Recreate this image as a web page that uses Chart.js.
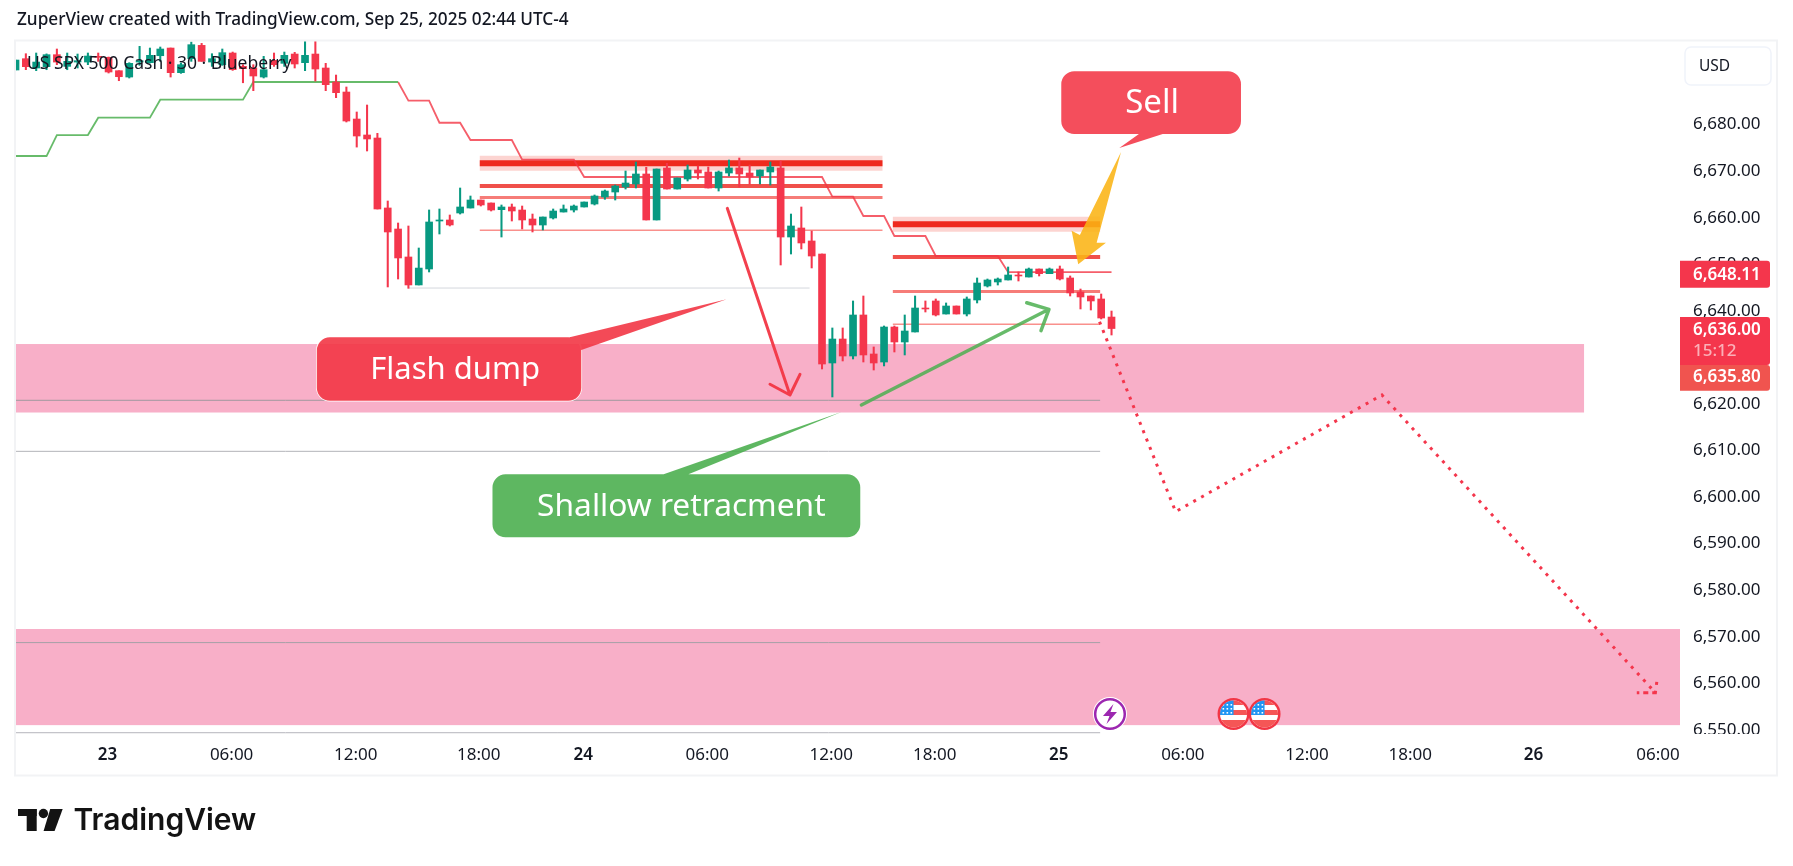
<!DOCTYPE html>
<html>
<head>
<meta charset="utf-8">
<title>US SPX 500 Cash</title>
<script src="https://cdn.jsdelivr.net/npm/chart.js@4/dist/chart.umd.min.js"></script>
<style>
  html, body { margin: 0; padding: 0; background: #fff; overflow: hidden; }
  canvas { display: block; }
</style>
</head>
<body>
<canvas id="grafico" width="1793" height="866"></canvas>
<script>
// velas de 30 minutos
var opens = [6691.54, 6693.97, 6691.97, 6692.25, 6694.83, 6692.32, 6693.25, 6693.25, 6694.47, 6694.26,
  6691.39, 6690.03, 6693.25, 6693.11, 6694.61, 6696.26, 6690.96, 6693.97, 6696.83, 6693.25,
  6692.68, 6695.19, 6692.32, 6691.97, 6690.03, 6693.61, 6692.97, 6694.97, 6693.11, 6694.97,
  6691.97, 6688.96, 6686.81, 6681.01, 6677.58, 6676.93, 6661.90, 6657.38, 6651.37, 6645.36,
  6648.79, 6659.10, 6659.32, 6660.82, 6661.89, 6663.61, 6662.97, 6661.54, 6662.11, 6661.46,
  6659.53, 6658.24, 6659.75, 6661.03, 6661.46, 6662.11, 6662.75, 6664.26, 6665.33, 6666.40,
  6667.05, 6669.20, 6659.32, 6670.49, 6665.97, 6668.12, 6670.06, 6669.63, 6666.19, 6669.41,
  6670.49, 6669.41, 6668.77, 6669.63, 6670.49, 6655.66, 6657.60, 6654.81, 6652.01, 6628.60,
  6633.75, 6630.10, 6638.91, 6630.53, 6628.81, 6636.33, 6633.11, 6635.26, 6640.41, 6641.92,
  6639.12, 6640.84, 6639.12, 6642.13, 6645.14, 6646.00, 6646.43, 6647.50, 6647.07, 6648.79,
  6647.79, 6648.79, 6646.86, 6643.85, 6642.99, 6642.35, 6638.47];
var highs = [6693.68, 6695.04, 6695.19, 6695.00, 6696.05, 6695.19, 6694.97, 6695.19, 6695.19, 6694.33,
  6691.39, 6693.11, 6696.62, 6696.26, 6696.48, 6696.26, 6693.04, 6697.55, 6697.26, 6695.04,
  6696.05, 6695.40, 6692.68, 6692.68, 6694.47, 6695.19, 6695.40, 6695.33, 6697.69, 6697.77,
  6692.97, 6690.46, 6687.89, 6682.52, 6684.02, 6677.93, 6663.40, 6658.67, 6658.03, 6653.30,
  6661.47, 6661.68, 6660.39, 6666.19, 6664.47, 6663.61, 6662.97, 6662.54, 6662.75, 6662.32,
  6660.60, 6659.96, 6661.68, 6662.54, 6662.54, 6663.18, 6664.69, 6665.76, 6666.83, 6669.84,
  6671.77, 6670.63, 6670.27, 6671.49, 6668.34, 6671.13, 6670.92, 6670.70, 6669.84, 6672.20,
  6672.63, 6671.13, 6670.06, 6671.77, 6671.99, 6660.60, 6662.11, 6656.95, 6652.01, 6636.12,
  6636.12, 6641.92, 6642.99, 6632.04, 6636.55, 6636.55, 6638.91, 6642.99, 6641.92, 6642.35,
  6641.49, 6640.84, 6642.78, 6646.86, 6646.64, 6646.86, 6649.22, 6648.15, 6649.00, 6648.79,
  6649.00, 6649.43, 6647.29, 6644.49, 6642.99, 6643.42, 6639.76];
var lows = [6691.54, 6691.61, 6691.39, 6691.60, 6692.68, 6691.60, 6691.97, 6692.68, 6693.40, 6690.89,
  6689.24, 6689.82, 6692.54, 6693.04, 6693.40, 6690.03, 6690.82, 6693.40, 6693.40, 6692.32,
  6692.54, 6691.46, 6688.80, 6687.10, 6689.82, 6692.32, 6692.32, 6691.97, 6691.39, 6689.17,
  6687.10, 6685.60, 6680.37, 6674.98, 6674.14, 6661.68, 6644.93, 6646.64, 6644.64, 6645.36,
  6648.15, 6656.31, 6658.03, 6660.60, 6661.89, 6662.32, 6661.25, 6655.66, 6659.10, 6657.38,
  6656.74, 6657.17, 6659.53, 6661.03, 6661.03, 6662.11, 6662.54, 6663.76, 6663.61, 6665.97,
  6666.19, 6659.32, 6659.32, 6665.97, 6665.97, 6667.69, 6668.12, 6666.19, 6665.54, 6668.77,
  6666.40, 6667.05, 6667.05, 6666.83, 6649.65, 6652.01, 6653.09, 6649.01, 6627.31, 6621.30,
  6629.03, 6629.46, 6628.81, 6627.09, 6627.96, 6630.96, 6630.32, 6635.26, 6639.55, 6638.70,
  6639.12, 6639.12, 6638.70, 6641.49, 6644.92, 6645.35, 6646.43, 6646.21, 6647.07, 6647.29,
  6647.79, 6646.43, 6642.99, 6640.20, 6639.98, 6638.05, 6634.61];
var closes = [6693.68, 6692.25, 6693.25, 6694.83, 6693.25, 6693.40, 6693.54, 6694.54, 6694.26, 6691.11,
  6690.10, 6692.97, 6693.54, 6694.69, 6696.05, 6690.96, 6692.68, 6696.98, 6693.40, 6693.97,
  6695.26, 6691.61, 6691.82, 6690.25, 6691.61, 6692.68, 6694.69, 6692.83, 6694.69, 6691.75,
  6688.39, 6686.67, 6680.58, 6677.36, 6676.72, 6661.68, 6656.74, 6651.16, 6645.36, 6648.99,
  6658.89, 6659.32, 6658.25, 6662.11, 6663.61, 6662.54, 6661.46, 6662.11, 6661.25, 6659.32,
  6658.24, 6659.96, 6661.25, 6661.68, 6662.32, 6663.18, 6664.47, 6665.54, 6666.62, 6667.26,
  6669.20, 6659.32, 6670.27, 6665.97, 6668.34, 6670.06, 6669.41, 6666.19, 6669.63, 6670.49,
  6669.20, 6668.55, 6670.06, 6670.70, 6655.66, 6658.03, 6654.38, 6651.58, 6628.38, 6633.75,
  6630.10, 6638.91, 6630.32, 6628.60, 6636.33, 6633.11, 6635.47, 6640.41, 6640.20, 6638.91,
  6640.84, 6639.12, 6642.35, 6645.78, 6646.43, 6646.64, 6647.50, 6647.29, 6648.79, 6647.79,
  6648.79, 6646.64, 6643.64, 6642.78, 6641.92, 6638.26, 6636.00];

// indicador escalonado (Blueberry)
var subeBar = [0, 3, 4, 7, 8, 13, 14, 22, 23, 37];
var subeVal = [6673.06, 6673.06, 6677.57, 6677.57, 6681.29, 6681.29, 6685.16, 6685.16, 6688.96, 6688.96];
var bajaBar = [37, 38, 40, 41, 43, 44, 48, 49, 54, 55, 78, 79, 81, 82, 84, 85, 88, 89, 95, 96, 106];
var bajaVal = [6688.96, 6684.94, 6684.94, 6680.21, 6680.21, 6676.50, 6676.50, 6672.27, 6672.27, 6668.55, 6668.55,
  6664.32, 6664.32, 6660.17, 6660.17, 6655.88, 6655.88, 6651.58, 6651.58, 6648.11, 6648.11];

// niveles horizontales
var nivelDesde = [44.9, 44.9, 44.9, 44.9, 44.9, 84.85, 84.85, 84.85, 84.85, 84.85, 38, -1, -1, -1, -1];
var nivelHasta = [83.85, 83.85, 83.85, 83.85, 83.85, 104.9, 104.9, 104.9, 104.9, 104.9, 76.8, 104.9, 104.9, 104.9, 104.9];
var nivelValor = [6671.50, 6671.50, 6666.62, 6664.15, 6657.10, 6658.40, 6658.40, 6651.36, 6643.95, 6636.91,
  6644.70, 6620.58, 6609.62, 6568.53, 6549.17];
var nivelAncho = [15, 6, 4, 3, 1.5, 15, 6, 4, 3, 1.5, 1, 1, 1, 1, 1];
var nivelColor = ['#fcd4d1', '#ee2a1e', '#f0504a', '#f67c78', '#f9908c', '#fcd4d1', '#ee2a1e', '#f0504a', '#f67c78', '#f9908c',
  '#d5d7dd', '#a0989f', '#b2b3b8', '#a59fa6', '#b4b4bb'];

// zonas rosadas
var zonaAlta = [6632.67, 6571.45];
var zonaBaja = [6617.96, 6550.80];
var zonaFin = [151.7, 160.98];

// proyeccion punteada y flechas
var proyBar = [104.84, 112.2, 132.15, 158.6, 156.8, 158.6, 158.8];
var proyVal = [6637.47, 6596.66, 6621.72, 6557.77, 6557.77, 6557.77, 6561.2];
var rojaBar = [68.84, 74.9, 72.97, 74.9, 75.87];
var rojaVal = [6661.83, 6621.72, 6624.02, 6621.72, 6626.17];
var verdeBar = [81.81, 99.95, 97.8, 99.95, 99.18];
var verdeVal = [6619.57, 6640.13, 6641.55, 6640.13, 6635.53];
var amarillaBar = [106.92, 104.56, 105.46, 102.78, 102.14, 102.94];
var amarillaVal = [6673.92, 6654.44, 6654.44, 6649.8, 6657.01, 6656.09];

// ejes
var precios = [6680, 6670, 6660, 6650, 6640, 6630, 6620, 6610, 6600, 6590, 6580, 6570, 6560, 6550];
var horasBar = [8.9, 20.9, 32.9, 44.8, 54.9, 66.9, 78.9, 88.9, 100.9, 112.9, 124.9, 134.9, 146.8, 158.85];
var horas = ['23', '06:00', '12:00', '18:00', '24', '06:00', '12:00', '18:00', '25', '06:00', '12:00', '18:00', '26', '06:00'];

var ROJO = '#f4364c';
var VERDE = '#089981';
var FUENTE = '"Noto Sans", sans-serif';

function puntos(xs, ys) {
  return xs.map(function (x, i) { return { x: x, y: ys[i] }; });
}

var conjuntos = [];

// cuerpos y mechas
var colores = opens.map(function (o, i) { return closes[i] >= o ? VERDE : ROJO; });
conjuntos.push({
  type: 'bar', grouped: false, order: 2, barThickness: 7,
  data: opens.map(function (o, i) { return { x: i, y: [o, closes[i]] }; }),
  backgroundColor: colores
});
conjuntos.push({
  type: 'bar', grouped: false, order: 3, barThickness: 1.4,
  data: lows.map(function (l, i) { return { x: i, y: [l, highs[i]] }; }),
  backgroundColor: colores
});

function linea(datos, color, ancho, orden, extra) {
  return Object.assign({
    type: 'line', data: datos, borderColor: color, borderWidth: ancho, order: orden,
    pointRadius: 0, tension: 0, fill: false, borderCapStyle: 'butt'
  }, extra || {});
}

conjuntos.push(linea(puntos(subeBar, subeVal), 'rgba(76,175,80,0.85)', 1.8, 4));
conjuntos.push(linea(puntos(bajaBar, bajaVal), 'rgba(242,54,69,0.8)', 1.8, 4));

nivelValor.forEach(function (v, i) {
  conjuntos.push(linea([{ x: nivelDesde[i], y: v }, { x: nivelHasta[i], y: v }], nivelColor[i], nivelAncho[i], 20 - i));
});

conjuntos.push(linea(puntos(proyBar, proyVal), '#f4364c', 3, 1, { borderDash: [3, 6] }));
conjuntos.push(linea(puntos(rojaBar, rojaVal), 'rgba(242,54,69,0.95)', 3, 1, { borderCapStyle: 'round', borderJoinStyle: 'round' }));
conjuntos.push(linea(puntos(verdeBar, verdeVal), 'rgba(76,175,80,0.85)', 3.5, 1, { borderCapStyle: 'round', borderJoinStyle: 'round' }));

// dibujos sobre el grafico: zonas, globos, etiquetas
function bloque(ctx, x, y, w, h, r, color) {
  ctx.beginPath();
  ctx.roundRect(x, y, w, h, r);
  ctx.fillStyle = color;
  ctx.fill();
}

function texto(ctx, t, x, y, fuente, color, alin) {
  ctx.font = fuente;
  ctx.fillStyle = color;
  ctx.textAlign = alin || 'left';
  ctx.textBaseline = 'middle';
  ctx.fillText(t, x, y);
}

function globo(chart, g) {
  var ctx = chart.ctx, sx = chart.scales.x, sy = chart.scales.y;
  var x1 = sx.getPixelForValue(g.bar[0]), x2 = sx.getPixelForValue(g.bar[1]);
  var y1 = sy.getPixelForValue(g.val[0]), y2 = sy.getPixelForValue(g.val[1]);
  ctx.save();
  if (g.borde) {
    ctx.beginPath();
    ctx.roundRect(x1, y1, x2 - x1, y2 - y1, 13);
    ctx.strokeStyle = g.borde;
    ctx.lineWidth = 1.5;
    ctx.stroke();
  }
  ctx.beginPath();
  ctx.roundRect(x1, y1, x2 - x1, y2 - y1, 13);
  ctx.moveTo(sx.getPixelForValue(g.colaBar[0]), sy.getPixelForValue(g.colaVal[0]));
  ctx.lineTo(sx.getPixelForValue(g.colaBar[1]), sy.getPixelForValue(g.colaVal[1]));
  ctx.lineTo(sx.getPixelForValue(g.colaBar[2]), sy.getPixelForValue(g.colaVal[2]));
  ctx.closePath();
  ctx.fillStyle = g.color;
  ctx.fill();
  texto(ctx, g.texto, (x1 + x2) / 2 + g.dx, (y1 + y2) / 2 + 1, g.talla + 'px ' + FUENTE, '#ffffff', 'center');
  ctx.restore();
}

var globos = [
  { texto: 'Sell', talla: 33, bar: [101.14, 118.52], val: [6691.26, 6677.79], colaBar: [108.65, 106.75, 110.95], colaVal: [6677.79, 6674.78, 6677.79], color: 'rgba(242,54,69,0.88)', dx: 1 },
  { texto: 'Flash dump', talla: 31, bar: [29.14, 54.72], val: [6634.11, 6620.49], colaBar: [53.6, 68.78, 54.72], colaVal: [6634.11, 6642.28, 6631.38], color: 'rgba(242,54,69,0.9)', borde: '#ffffff', dx: 6 },
  { texto: 'Shallow retracment', talla: 31.7, bar: [46.13, 81.7], val: [6604.68, 6591.15], colaBar: [62.68, 79.88, 65.08], colaVal: [6604.68, 6618.07, 6604.68], color: 'rgba(76,175,80,0.9)', dx: 5 }
];

function eventoRayo(ctx, x, y) {
  ctx.beginPath(); ctx.arc(x, y, 17, 0, Math.PI * 2); ctx.fillStyle = '#fff'; ctx.fill();
  ctx.beginPath(); ctx.arc(x, y, 14.8, 0, Math.PI * 2); ctx.strokeStyle = '#9c27b0'; ctx.lineWidth = 2.5; ctx.stroke();
  ctx.beginPath();
  ctx.moveTo(x + 3.5, y - 10); ctx.lineTo(x - 7, y + 2); ctx.lineTo(x - 0.5, y + 2);
  ctx.lineTo(x - 3.5, y + 10); ctx.lineTo(x + 7, y - 2); ctx.lineTo(x + 0.5, y - 2);
  ctx.closePath();
  ctx.fillStyle = '#9c27b0';
  ctx.fill();
}

function eventoBandera(ctx, x, y) {
  ctx.save();
  ctx.beginPath(); ctx.arc(x, y, 16, 0, Math.PI * 2); ctx.fillStyle = '#f23645'; ctx.fill();
  ctx.beginPath(); ctx.arc(x, y, 13.5, 0, Math.PI * 2); ctx.fillStyle = '#fff'; ctx.fill();
  ctx.clip();
  ctx.fillStyle = '#f55656';
  ctx.fillRect(x - 14, y - 14, 28, 5);
  ctx.fillRect(x - 14, y - 4, 28, 5);
  ctx.fillRect(x - 14, y + 6, 28, 8);
  ctx.fillStyle = '#2196f3';
  ctx.fillRect(x - 14, y - 14, 14, 15);
  ctx.fillStyle = '#fff';
  for (var a = 0; a < 3; a++) {
    for (var b = 0; b < 3; b++) {
      ctx.fillRect(x - 11 + a * 4, y - 10 + b * 4, 1.6, 1.6);
    }
  }
  ctx.restore();
}

function etiquetaPrecio(ctx, y1, y2, color) {
  bloque(ctx, 1680, y1, 90, y2 - y1, [0, 3, 3, 0], color);
}

function logo(ctx) {
  ctx.fillStyle = '#131313';
  ctx.fillRect(18, 809, 18.7, 7);
  ctx.fillRect(26.7, 809, 10, 22);
  ctx.beginPath(); ctx.arc(43.4, 813.5, 4.7, 0, Math.PI * 2); ctx.fill();
  ctx.beginPath();
  ctx.moveTo(50.2, 809); ctx.lineTo(62.7, 809); ctx.lineTo(54.6, 831); ctx.lineTo(43.6, 831);
  ctx.closePath();
  ctx.fill();
  texto(ctx, 'TradingView', 73.5, 821, '600 30px Inter, sans-serif', '#131313');
}

var dibujos = {
  id: 'dibujos',
  beforeDatasetsDraw: function (chart) {
    var ctx = chart.ctx, sx = chart.scales.x, sy = chart.scales.y;
    ctx.save();
    zonaAlta.forEach(function (v, i) {
      var y1 = sy.getPixelForValue(v), y2 = sy.getPixelForValue(zonaBaja[i]);
      ctx.fillStyle = '#f8afc8';
      ctx.fillRect(sx.left, y1, sx.getPixelForValue(zonaFin[i]) - sx.left, y2 - y1);
    });
    ctx.restore();
  },
  afterDatasetsDraw: function (chart) {
    var ctx = chart.ctx, sx = chart.scales.x, sy = chart.scales.y;
    ctx.save();

    // flecha amarilla
    ctx.beginPath();
    amarillaBar.forEach(function (b, i) {
      var x = sx.getPixelForValue(b), y = sy.getPixelForValue(amarillaVal[i]);
      if (i === 0) { ctx.moveTo(x, y); } else { ctx.lineTo(x, y); }
    });
    ctx.closePath();
    ctx.fillStyle = 'rgba(251,180,20,0.88)';
    ctx.fill();

    globos.forEach(function (g) { globo(chart, g); });

    // eventos del calendario
    eventoRayo(ctx, sx.getPixelForValue(105.85), 714);
    eventoBandera(ctx, sx.getPixelForValue(117.8), 714);
    eventoBandera(ctx, sx.getPixelForValue(120.8), 714);

    texto(ctx, 'US SPX 500 Cash · 30 · Blueberry', 27, 64, '17.5px ' + FUENTE, '#131722');
    texto(ctx, 'ZuperView created with TradingView.com, Sep 25, 2025 02:44 UTC-4', 17, 20.5, '500 17.2px ' + FUENTE, '#131722');

    // corte del eje de precios y marco
    ctx.fillStyle = '#ffffff';
    ctx.fillRect(1681, 734, 96, 41);
    ctx.strokeStyle = '#f2f3f5';
    ctx.lineWidth = 2;
    ctx.strokeRect(15, 40.5, 1762, 735);

    // boton de moneda
    ctx.beginPath();
    ctx.roundRect(1685, 47, 86, 38, 6);
    ctx.fillStyle = '#fff';
    ctx.fill();
    ctx.strokeStyle = '#f0f3fa';
    ctx.lineWidth = 1.5;
    ctx.stroke();
    texto(ctx, 'USD', 1699, 66.5, '15.5px ' + FUENTE, '#131722');

    // etiquetas de precio
    var negrita = '600 17px ' + FUENTE;
    etiquetaPrecio(ctx, 260.7, 287.7, '#f4364c');
    texto(ctx, '6,648.11', 1693, 275, negrita, '#ffffff');
    etiquetaPrecio(ctx, 317, 365, '#f4364c');
    texto(ctx, '6,636.00', 1693, 330.5, negrita, '#ffffff');
    texto(ctx, '15:12', 1693, 351.5, '500 17px ' + FUENTE, '#fbb0b8');
    etiquetaPrecio(ctx, 365, 390.7, '#f0544f');
    texto(ctx, '6,635.80', 1693, 377.5, negrita, '#ffffff');

    logo(ctx);
    ctx.restore();
  }
};

var grafico = new Chart(document.getElementById('grafico').getContext('2d'), {
  type: 'bar',
  data: { datasets: conjuntos },
  plugins: [dibujos],
  options: {
    responsive: false,
    animation: false,
    events: [],
    layout: { padding: { left: 15, right: 15, top: 41, bottom: 91 } },
    plugins: { legend: { display: false }, title: { display: false }, tooltip: { enabled: false } },
    scales: {
      x: {
        type: 'linear',
        min: -0.05,
        max: 160.98,
        offset: false,
        grid: { display: false, drawTicks: false },
        border: { display: false },
        afterBuildTicks: function (s) { s.ticks = horasBar.map(function (v) { return { value: v }; }); },
        afterFit: function (s) { s.height = 40; },
        ticks: {
          autoSkip: false,
          maxRotation: 0,
          padding: 10,
          color: '#131722',
          font: function (c) {
            var esDia = c.tick && horas[c.index] && horas[c.index].length < 3;
            return { family: FUENTE, size: 17, weight: esDia ? '600' : '400' };
          },
          callback: function (v, i) { return horas[i]; }
        }
      },
      y: {
        position: 'right',
        min: 6548.68,
        max: 6697.77,
        grid: { display: false, drawTicks: false },
        border: { display: false },
        // el texto se baja un pixel para caer sobre la marca del original
        afterBuildTicks: function (s) { s.ticks = precios.map(function (v) { return { value: v - 0.2 }; }); },
        afterFit: function (s) { s.width = 98; },
        ticks: {
          autoSkip: false,
          padding: 13,
          color: '#131722',
          font: { family: FUENTE, size: 17 },
          callback: function (v, i) { return precios[i].toLocaleString('en-US', { minimumFractionDigits: 2 }); }
        }
      }
    }
  }
});
</script>
</body>
</html>
